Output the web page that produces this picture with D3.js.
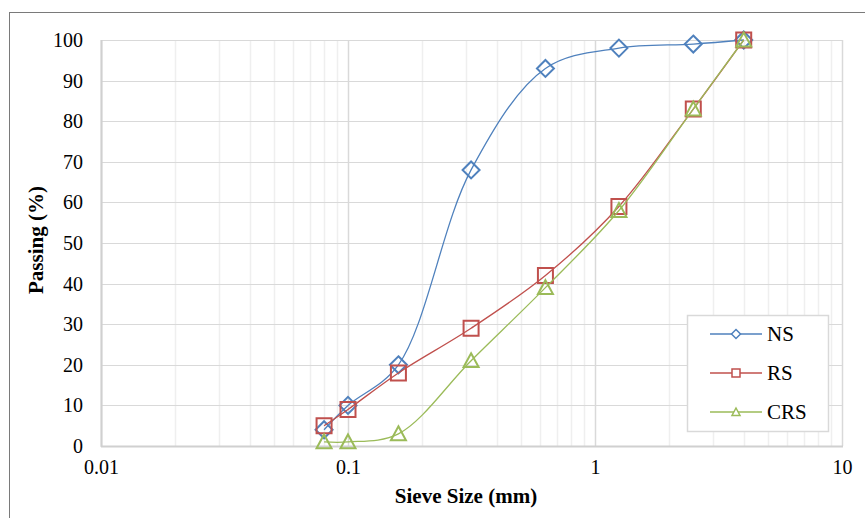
<!DOCTYPE html>
<html>
<head>
<meta charset="utf-8">
<script src="https://cdn.jsdelivr.net/npm/d3@7"></script>
<style>
  html, body { margin: 0; padding: 0; background: #fff; }
  svg { display: block; }
  svg text { font-family: "Liberation Serif", "Times New Roman", Times, serif !important; fill: #000; }
</style>
</head>
<body>
<svg id="chart" width="865" height="518"></svg>
<script>
// Sieve sizes (mm) and percent passing for each sand
const sieveSizes = [0.08, 0.1, 0.16, 0.315, 0.63, 1.25, 2.5, 4];
const nsPassing  = [4, 10, 20, 68, 93, 98, 99, 100];
const rsPassing  = [5, 9, 18, 29, 42, 59, 83, 100];
const crsPassing = [1, 1, 3, 21, 39, 58, 83, 100];

const seriesNames  = ["NS", "RS", "CRS"];
const seriesColors = ["#4F81BD", "#C0504D", "#9BBB59"];
const seriesShapes = ["diamond", "square", "triangle"];

const xTickValues = [0.01, 0.1, 1, 10];
const xTickLabels = ["0.01", "0.1", "1", "10"];
const yTickValues = [0, 10, 20, 30, 40, 50, 60, 70, 80, 90, 100];

const svg = d3.select("#chart");

// outer chart frame
svg.append("rect")
  .attr("x", 9.5).attr("y", 12.5)
  .attr("width", 900).attr("height", 600)
  .attr("fill", "none").attr("stroke", "#7a7a7a").attr("stroke-width", 1);

const plot = { left: 101, right: 842, top: 40, bottom: 446 };

const x = d3.scaleLog().domain([0.01, 10]).range([plot.left, plot.right]);
const y = d3.scaleLinear().domain([0, 100]).range([plot.bottom, plot.top]);

const grid = svg.append("g");

// minor vertical gridlines (2..9 within each decade)
const minorX = [];
[0.01, 0.1, 1].forEach(d => { for (let k = 2; k <= 9; k++) minorX.push(d * k); });
grid.selectAll("line.minor").data(minorX).join("line")
  .attr("class", "minor")
  .attr("x1", d => Math.round(x(d)) + 0.5).attr("x2", d => Math.round(x(d)) + 0.5)
  .attr("y1", plot.top).attr("y2", plot.bottom)
  .attr("stroke", "#efefef").attr("stroke-width", 1.5);

// horizontal gridlines
grid.selectAll("line.hy").data(yTickValues).join("line")
  .attr("class", "hy")
  .attr("x1", plot.left).attr("x2", plot.right)
  .attr("y1", d => Math.round(y(d)) + 0.5).attr("y2", d => Math.round(y(d)) + 0.5)
  .attr("stroke", "#d9d9d9").attr("stroke-width", 1.2);

// major vertical gridlines at decades
grid.selectAll("line.major").data(xTickValues).join("line")
  .attr("class", "major")
  .attr("x1", d => Math.round(x(d)) + 0.5).attr("x2", d => Math.round(x(d)) + 0.5)
  .attr("y1", plot.top).attr("y2", plot.bottom)
  .attr("stroke", "#d9d9d9").attr("stroke-width", 1.5);

// axis lines
grid.append("line")
  .attr("x1", plot.left + 0.5).attr("x2", plot.left + 0.5)
  .attr("y1", plot.top).attr("y2", plot.bottom + 1)
  .attr("stroke", "#d0d0d0").attr("stroke-width", 2);
grid.append("line")
  .attr("x1", plot.left).attr("x2", plot.right + 1)
  .attr("y1", plot.bottom + 0.5).attr("y2", plot.bottom + 0.5)
  .attr("stroke", "#d0d0d0").attr("stroke-width", 2);

// y axis tick labels
const yAxis = d3.axisLeft(y).tickValues(yTickValues).tickSize(0).tickPadding(18);
const yg = svg.append("g").attr("transform", `translate(${plot.left},0)`).call(yAxis);
yg.select(".domain").remove();
yg.selectAll("text").attr("font-size", 20);

// x axis tick labels
const xAxis = d3.axisBottom(x).tickValues(xTickValues)
  .tickFormat((d, i) => xTickLabels[i]).tickSize(0).tickPadding(14);
const xg = svg.append("g").attr("transform", `translate(0,${plot.bottom})`).call(xAxis);
xg.select(".domain").remove();
xg.selectAll("text").attr("font-size", 20);

// axis titles
svg.append("text")
  .attr("x", 466).attr("y", 503)
  .attr("text-anchor", "middle").attr("font-weight", "bold").attr("font-size", 21)
  .text("Sieve Size (mm)");
svg.append("text")
  .attr("transform", `translate(43,240) rotate(-90)`)
  .attr("text-anchor", "middle").attr("font-weight", "bold").attr("font-size", 21)
  .text("Passing (%)");

// marker path generator
function markerPath(shape, r) {
  if (shape === "diamond") return `M0,${-r}L${r},0L0,${r}L${-r},0Z`;
  if (shape === "square") return `M${-r},${-r}H${r}V${r}H${-r}Z`;
  // triangle with its bounding box centred on the point
  return `M0,${-r}L${r},${r * 0.85}L${-r},${r * 0.85}Z`;
}

const allSeries = [nsPassing, rsPassing, crsPassing].map((vals, i) => ({
  name: seriesNames[i], color: seriesColors[i], shape: seriesShapes[i],
  points: sieveSizes.map((s, j) => ({ s, v: vals[j] }))
}));

const line = d3.line().x(d => x(d.s)).y(d => y(d.v)).curve(d3.curveCatmullRom.alpha(0.5));

const seriesG = svg.append("g");
allSeries.forEach(ser => {
  const g = seriesG.append("g");
  g.append("path").attr("d", line(ser.points))
    .attr("fill", "none").attr("stroke", ser.color).attr("stroke-width", 1.3);
  g.selectAll("path.m").data(ser.points).join("path")
    .attr("class", "m")
    .attr("transform", d => `translate(${x(d.s)},${y(d.v)})`)
    .attr("d", markerPath(ser.shape, ser.shape === "diamond" ? 8.5 : 7.5))
    .attr("fill", "none").attr("stroke", ser.color).attr("stroke-width", 2);
});

// legend
const lg = svg.append("g");
lg.append("rect").attr("x", 687.5).attr("y", 315.5).attr("width", 141).attr("height", 116)
  .attr("fill", "#fff").attr("stroke", "#d9d9d9").attr("stroke-width", 1.5);
allSeries.forEach((ser, i) => {
  const cy = 334 + i * 39;
  lg.append("line").attr("x1", 710).attr("x2", 762).attr("y1", cy).attr("y2", cy)
    .attr("stroke", ser.color).attr("stroke-width", 1.5);
  lg.append("path").attr("transform", `translate(736,${cy})`)
    .attr("d", markerPath(ser.shape, ser.shape === "diamond" ? 4.5 : 4))
    .attr("fill", "#fff").attr("stroke", ser.color).attr("stroke-width", 1.5);
  lg.append("text").attr("x", 767).attr("y", cy + 7).attr("font-size", 21)
    .text(ser.name);
});
</script>
</body>
</html>
